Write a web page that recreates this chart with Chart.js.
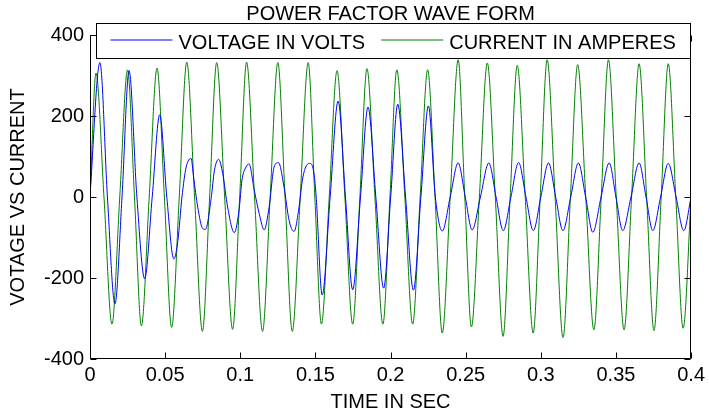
<!DOCTYPE html>
<html>
<head>
<meta charset="utf-8">
<script src="https://cdn.jsdelivr.net/npm/chart.js@4.4.1/dist/chart.umd.min.js"></script>
<style>
  html, body { margin: 0; padding: 0; background: #fff; }
  #wrap { width: 709px; height: 416px; position: relative; }
</style>
</head>
<body>
<div id="wrap"><canvas id="pf"></canvas></div>
<script>
// time (s) and value pairs: peaks, troughs, zero crossings
const currentTime = [
  0, 0.004, 0.0093, 0.0146, 0.0198, 0.025, 0.0296, 0.0342, 0.0394, 0.0446,
  0.0495, 0.0543, 0.0594, 0.0644, 0.0696, 0.0748, 0.0796, 0.0843, 0.0896, 0.0949,
  0.0996, 0.1042, 0.1095, 0.1148, 0.1199, 0.125, 0.1298, 0.1346, 0.1399, 0.1452,
  0.1496, 0.154, 0.1592, 0.1644, 0.1696, 0.1748, 0.1796, 0.1843, 0.1896, 0.1949,
  0.1996, 0.2042, 0.2095, 0.2147, 0.2197, 0.2247, 0.2296, 0.2344, 0.2397, 0.245,
  0.2494, 0.2538, 0.2591, 0.2644, 0.2697, 0.2749, 0.2796, 0.2843, 0.2896, 0.2949,
  0.2996, 0.3042, 0.3095, 0.3148, 0.3197, 0.3245, 0.3299, 0.3353, 0.3402, 0.345,
  0.3502, 0.3554, 0.3604, 0.3654, 0.3704, 0.3753, 0.3801, 0.3848, 0.3898, 0.3947,
  0.4
];
const currentAmps = [
  0, 306, 0, -314, 0, 314, 0, -318, 0, 318,
  0, -322, 0, 333, 0, -332, 0, 332, 0, -327,
  0, 333, 0, -332, 0, 332, 0, -332, 0, 332,
  0, -314, 0, 312, 0, -314, 0, 317, 0, -314,
  0, 314, 0, -314, 0, 314, 0, -336, 0, 339,
  0, -321, 0, 331, 0, -344, 0, 325, 0, -336,
  0, 339, 0, -347, 0, 327, 0, -328, 0, 339,
  0, -328, 0, 329, 0, -330, 0, 329, 0, -324,
  0
];

const voltageTime = [
  0, 0.0066, 0.0116, 0.0166, 0.0213, 0.026, 0.0312, 0.0364, 0.0414, 0.0464,
  0.0511, 0.0558, 0.0585, 0.0612, 0.064, 0.0673, 0.0689, 0.0717, 0.075, 0.0768,
  0.0806, 0.0828, 0.0856, 0.0883, 0.0916, 0.096, 0.0993, 0.1011, 0.1038, 0.1058,
  0.1093, 0.1126, 0.1159, 0.1192, 0.1225, 0.1254, 0.1291, 0.1325, 0.1358, 0.1391,
  0.1413, 0.1435, 0.1466, 0.149, 0.1505, 0.1545, 0.1598, 0.1651, 0.17, 0.1748,
  0.18, 0.185, 0.1902, 0.1954, 0.2001, 0.2048, 0.21, 0.2152, 0.2202, 0.2252,
  0.2298, 0.2344, 0.2397, 0.245, 0.2497, 0.2543, 0.2598, 0.2654, 0.2702, 0.275,
  0.2801, 0.2852, 0.2901, 0.295, 0.3, 0.3051, 0.3099, 0.3147, 0.3199, 0.325,
  0.3298, 0.3346, 0.3401, 0.3455, 0.35, 0.3545, 0.36, 0.3654, 0.37, 0.3745,
  0.3797, 0.3848, 0.39, 0.3951, 0.4
];
const voltageVolts = [
  5, 332, 0, -264, 0, 312, 0, -202, 0, 203,
  0, -153, -107, 0, 74, 95, 50, -25, -78, -80,
  -4, 66, 93, 58, -25, -88, -29, 41, 74, 82,
  17, -41, -81, -25, 74, 85, 25, -58, -85, -25,
  41, 74, 83, 59, 0, -242, 0, 237, 0, -229,
  0, 222, 0, -225, 0, 229, 0, -230, 0, 225,
  0, -84, 0, 84, 0, -81, 0, 84, 0, -83,
  0, 85, 0, -83, 0, 84, 0, -83, 0, 84,
  0, -87, 0, 84, 0, -83, 0, 84, 0, -83,
  0, 83, 0, -83, 0
];

const xTicks = [0, 0.05, 0.1, 0.15, 0.2, 0.25, 0.3, 0.35, 0.4];
const xTickLabels = ['0', '0.05', '0.1', '0.15', '0.2', '0.25', '0.3', '0.35', '0.4'];
const yTicks = [-400, -200, 0, 200, 400];
const yTickLabels = ['-400', '-200', '0', '200', '400'];

const toPoints = (ts, vs) => ts.map((t, i) => ({ x: t, y: vs[i] }));

Chart.defaults.font.family = '"Liberation Sans", Arial, sans-serif';
Chart.defaults.font.size = 20;
Chart.defaults.color = '#000';

// MATLAB style box with inward ticks, legend box and title
const matlabFrame = {
  id: 'matlabFrame',
  afterDatasetsDraw(chart) {
    const { ctx, chartArea: a, scales: { x, y } } = chart;
    const L = Math.round(a.left) + 0.5, R = Math.round(a.right) - 0.5;
    const T = Math.round(a.top) + 0.5, B = Math.round(a.bottom) - 0.5;
    ctx.save();
    ctx.strokeStyle = '#000';
    ctx.lineWidth = 1;
    ctx.beginPath();
    ctx.rect(L, T, R - L, B - T);
    xTicks.forEach(v => {
      const px = Math.round(x.getPixelForValue(v)) + 0.5;
      ctx.moveTo(px, B); ctx.lineTo(px, B - 6);
      ctx.moveTo(px, T); ctx.lineTo(px, T + 6);
    });
    yTicks.forEach(v => {
      const py = Math.round(y.getPixelForValue(v)) + 0.5;
      ctx.moveTo(L, py); ctx.lineTo(L + 6, py);
      ctx.moveTo(R, py); ctx.lineTo(R - 6, py);
    });
    ctx.stroke();

    // legend
    const bx = L + 6, by = T - 12, bw = R - bx, bh = 35;
    ctx.fillStyle = '#fff';
    ctx.fillRect(bx, by, bw, bh);
    ctx.strokeRect(bx, by, bw, bh);
    ctx.font = '20px "Liberation Sans", Arial, sans-serif';
    ctx.textBaseline = 'alphabetic';
    ctx.textAlign = 'left';
    let cx = bx + 14;
    const ly = by + 16.5, base = by + 25;
    chart.data.datasets.forEach(ds => {
      ctx.strokeStyle = ds.borderColor;
      ctx.beginPath();
      ctx.moveTo(cx, ly); ctx.lineTo(cx + 62, ly);
      ctx.stroke();
      ctx.fillStyle = '#000';
      ctx.fillText(ds.label, cx + 68, base);
      cx += 68 + ctx.measureText(ds.label).width + 16;
    });

    // title
    ctx.textAlign = 'center';
    ctx.fillText('POWER FACTOR WAVE FORM', (a.left + a.right) / 2, 20);
    ctx.restore();
  }
};

new Chart(document.getElementById('pf'), {
  type: 'line',
  data: {
    datasets: [
      {
        label: 'VOLTAGE IN VOLTS',
        data: toPoints(voltageTime, voltageVolts),
        borderColor: '#0000ff',
        borderWidth: 1,
        pointRadius: 0,
        cubicInterpolationMode: 'monotone'
      },
      {
        label: 'CURRENT IN AMPERES',
        data: toPoints(currentTime, currentAmps),
        borderColor: '#008000',
        borderWidth: 1,
        pointRadius: 0,
        cubicInterpolationMode: 'monotone'
      }
    ]
  },
  options: {
    responsive: true,
    maintainAspectRatio: false,
    animation: false,
    layout: { padding: { top: 35, right: 15, left: 0, bottom: 0 } },
    plugins: { legend: { display: false }, title: { display: false }, tooltip: { enabled: false } },
    scales: {
      x: {
        type: 'linear',
        min: 0, max: 0.4,
        grid: { display: false, drawTicks: false },
        border: { display: false },
        afterBuildTicks: s => { s.ticks = xTicks.map(v => ({ value: v })); },
        afterFit: s => { s.height = 57; },
        ticks: { padding: 4, maxRotation: 0, autoSkip: false, callback: (v, i) => xTickLabels[i] },
        title: { display: true, text: 'TIME IN SEC', padding: { top: 0, bottom: 2 } }
      },
      y: {
        min: -400, max: 400,
        grid: { display: false, drawTicks: false },
        border: { display: false },
        afterBuildTicks: s => { s.ticks = yTicks.map(v => ({ value: v })); },
        afterFit: s => { s.width = 90; },
        ticks: { padding: 6, autoSkip: false, callback: (v, i) => yTickLabels[i] },
        title: { display: true, text: 'VOTAGE VS CURRENT', padding: { top: 6, bottom: 0 } }
      }
    }
  },
  plugins: [matlabFrame]
});
</script>
</body>
</html>
